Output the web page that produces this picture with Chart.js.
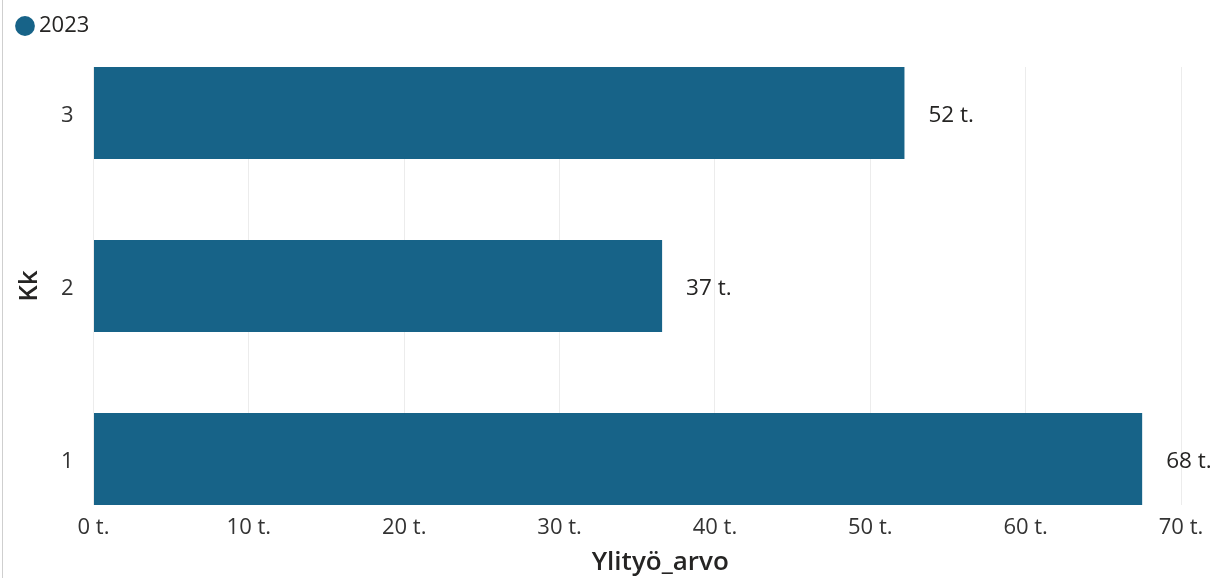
<!DOCTYPE html>
<html>
<head>
<meta charset="utf-8">
<script src="https://cdn.jsdelivr.net/npm/chart.js@4"></script>
<style>
html,body{margin:0;padding:0;background:#fff;}
#wrap{position:relative;width:1216px;height:578px;}
#edge{position:absolute;left:2px;top:0;width:1px;height:578px;background:#cfcfcf;}
canvas{display:block;}
</style>
</head>
<body>
<div id="wrap"><canvas id="c" width="1216" height="578"></canvas><div id="edge"></div></div>
<script>
// Data
const categories = ['1', '2', '3'];
const seriesName = '2023';
const values = [67.5, 36.6, 52.2];
const xTicks = [0, 10, 20, 30, 40, 50, 60, 70];
const xTitle = 'Ylityö_arvo';
const yTitle = 'Kk';
const unit = ' t.';

Chart.defaults.font.family = "'Open Sans', 'Noto Sans', sans-serif";

const barColor = '#176388';
const LEGEND_HEIGHT = 67;

const legendHeight = {
  id: 'legendHeight',
  afterInit(chart) {
    const lg = chart.legend;
    if (lg && !lg._patched) {
      const orig = lg.fit;
      lg.fit = function () { orig.call(this); this.height = LEGEND_HEIGHT; };
      lg._patched = true;
    }
  }
};

const dataLabels = {
  id: 'dataLabels',
  afterDatasetsDraw(chart) {
    const ctx = chart.ctx;
    const meta = chart.getDatasetMeta(0);
    ctx.save();
    ctx.font = "22.5px 'Open Sans', sans-serif";
    ctx.fillStyle = '#252423';
    ctx.textBaseline = 'middle';
    ctx.textAlign = 'left';
    meta.data.forEach((el, i) => {
      ctx.fillText(Math.round(values[i]) + unit, el.x + 24, el.y + 3);
    });
    ctx.restore();
  }
};

const xAxisTitle = {
  id: 'xAxisTitle',
  afterDraw(chart) {
    const ctx = chart.ctx;
    const xs = chart.scales.x;
    ctx.save();
    ctx.font = "600 26px 'Open Sans', sans-serif";
    ctx.fillStyle = '#252423';
    ctx.textBaseline = 'middle';
    ctx.textAlign = 'center';
    ctx.fillText(xTitle, (xs.left + xs.right) / 2 + 23, xs.bottom - 15);
    ctx.restore();
  }
};

new Chart(document.getElementById('c'), {
  type: 'bar',
  data: {
    datasets: [{
      label: seriesName,
      data: values.map((v, i) => ({ x: v, y: i })),
      backgroundColor: barColor,
      borderWidth: 0,
      barPercentage: 0.532,
      categoryPercentage: 1
    }]
  },
  options: {
    indexAxis: 'y',
    responsive: false,
    animation: false,
    layout: { padding: { left: 7, right: 35, top: 0, bottom: 0 } },
    plugins: {
      legend: {
        position: 'top',
        align: 'start',
        labels: {
          usePointStyle: true,
          pointStyle: 'circle',
          boxWidth: 6,
          boxHeight: 14,
          padding: 15,
          color: '#252423',
          font: { size: 22 }
        }
      },
      tooltip: { enabled: false }
    },
    scales: {
      x: {
        type: 'linear',
        min: 0,
        max: 70,
        afterBuildTicks(axis) { axis.ticks = xTicks.map(v => ({ value: v })); },
        afterFit(axis) { axis.height = 73; },
        grid: { color: '#ececec', lineWidth: 1, drawTicks: false },
        border: { display: false },
        ticks: {
          padding: 10,
          color: '#333333',
          font: { size: 22 },
          maxRotation: 0,
          callback: (v) => v + unit
        }
      },
      y: {
        type: 'linear',
        offset: false,
        min: -0.266,
        max: 2.266,
        afterBuildTicks(axis) {
          axis.ticks = categories.map((c, i) => ({ value: i }));
        },
        afterFit(axis) { axis.width = 86.5; },
        grid: { display: false, drawTicks: false, offset: false },
        border: { display: false },
        ticks: {
          padding: 20,
          labelOffset: 3,
          color: '#333333',
          font: { size: 22 },
          callback: (v) => categories[v]
        },
        title: {
          display: true,
          text: yTitle,
          color: '#252423',
          font: { size: 26, weight: '600' },
          padding: { top: 7, bottom: 0 }
        }
      }
    }
  },
  plugins: [legendHeight, dataLabels, xAxisTitle]
});
</script>
</body>
</html>
